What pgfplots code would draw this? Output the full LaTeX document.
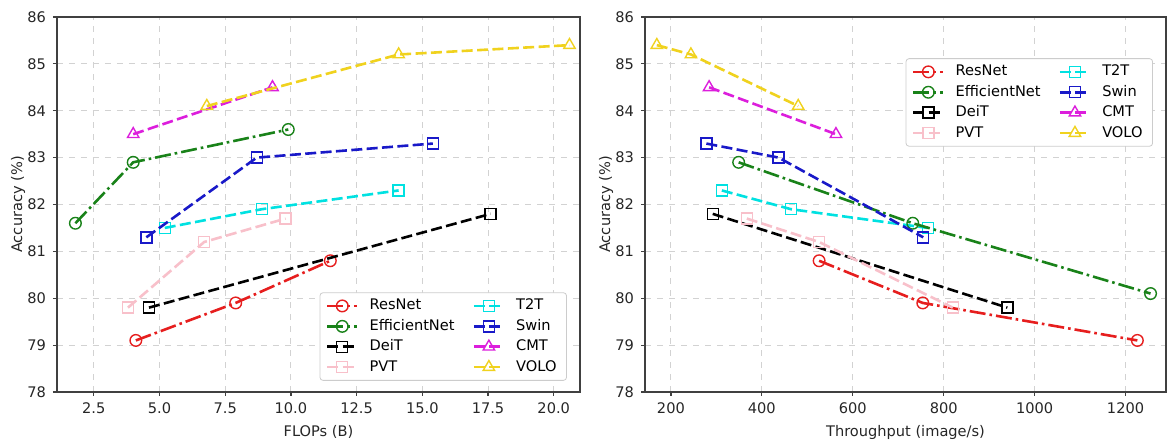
\documentclass[border=0pt]{standalone}
\usepackage{fontspec}
\setmainfont{DejaVu Sans}
\usepackage{pgfplots}
\pgfplotsset{compat=1.18}

\definecolor{cRes}{RGB}{230,30,30}
\definecolor{cEff}{RGB}{25,130,25}
\definecolor{cDeit}{RGB}{0,0,0}
\definecolor{cPvt}{RGB}{248,192,202}
\definecolor{cTtt}{RGB}{0,225,225}
\definecolor{cSwin}{RGB}{25,25,200}
\definecolor{cCmt}{RGB}{220,30,220}
\definecolor{cVolo}{RGB}{240,210,30}

\pgfplotsset{
  accfig/.style={
    scale only axis, width=261.5pt, height=187.5pt,
    ymin=78, ymax=86, ytick={78,79,80,81,82,83,84,85,86},
    grid=major, major grid style={gray!35, dashed, line width=0.5pt},
    axis line style={black!75, line width=0.6pt},
    tick align=outside, xtick pos=bottom, ytick pos=left, major tick length=2pt,
    tick style={black!75, line width=0.6pt},
    tick label style={font=\fontsize{7.3}{8}\selectfont, text=black!85},
    /pgf/number format/assume math mode=true,
    every axis y label/.style={at={(axis description cs:0,0.5)}, xshift=-19.5pt, rotate=90, anchor=center,
      font=\fontsize{7.3}{8}\selectfont, text=black!85},
    every axis x label/.style={at={(axis description cs:0.5,0)}, yshift=-20pt, anchor=center,
      font=\fontsize{7.3}{8}\selectfont, text=black!85},
    ylabel={Accuracy (\%)},
    clip mode=individual,
    legend columns=2, legend cell align=left,
    legend style={font=\fontsize{7.3}{8}\selectfont, draw=black!20, rounded corners=1.5pt,
      fill=white, inner xsep=3pt, inner ysep=1.5pt, row sep=0pt,
      nodes={inner xsep=2pt, inner ysep=1.5pt, text height=5.6pt, text depth=1.6pt}},
    /tikz/every even column/.append style={column sep=7pt},
    /tikz/every odd column/.append style={column sep=3.5pt},
    legend image code/.code={\draw[mark repeat=2,mark phase=2] plot coordinates {(0pt,0pt) (7.5pt,0pt) (15pt,0pt)};},
  },
  dd/.style={line width=1.3pt, dash pattern=on 8pt off 2pt on 1.3pt off 2pt},
  ds/.style={line width=1.3pt, dash pattern=on 5.5pt off 2.2pt},
  mo/.style={mark=o, mark size=2.9pt, mark options={solid, line width=0.7pt}},
  ms/.style={mark=square, mark size=2.75pt, mark options={solid, line width=0.7pt}},
  mt/.style={mark=triangle, mark size=3.3pt, mark options={solid, line width=0.7pt}},
}

\begin{document}
\begin{tikzpicture}
\useasboundingbox (-28.5pt,-26.5pt) rectangle (556pt,196pt);

% accuracy vs FLOPs
\begin{axis}[accfig, at={(0pt,0pt)}, anchor=south west,
  xmin=1.1, xmax=21.0, xtick={2.5,5,7.5,10,12.5,15,17.5,20},
  x tick label style={/pgf/number format/.cd, fixed, fixed zerofill, precision=1, /tikz/.cd},
  xlabel={FLOPs (B)},
  legend style={at={(0.975,0.03)}, anchor=south east}]
\addplot[cRes, dd, mo] coordinates {(4.1,79.1) (7.9,79.9) (11.5,80.8)};
\addlegendentry{ResNet}
\addplot[cTtt, ds, ms] coordinates {(5.2,81.5) (8.9,81.9) (14.1,82.3)};
\addlegendentry{T2T}
\addplot[cEff, dd, mo] coordinates {(1.8,81.6) (4.0,82.9) (9.9,83.6)};
\addlegendentry{EfficientNet}
\addplot[cSwin, ds, ms] coordinates {(4.5,81.3) (8.7,83.0) (15.4,83.3)};
\addlegendentry{Swin}
\addplot[cDeit, ds, ms] coordinates {(4.6,79.8) (17.6,81.8)};
\addlegendentry{DeiT}
\addplot[cCmt, ds, mt] coordinates {(4.0,83.5) (9.3,84.5)};
\addlegendentry{CMT}
\addplot[cPvt, ds, ms] coordinates {(3.8,79.8) (6.7,81.2) (9.8,81.7)};
\addlegendentry{PVT}
\addplot[cVolo, ds, mt] coordinates {(6.8,84.1) (14.1,85.2) (20.6,85.4)};
\addlegendentry{VOLO}
\end{axis}

% accuracy vs throughput
\begin{axis}[accfig, at={(294pt,0pt)}, anchor=south west, width=260.5pt,
  xmin=143, xmax=1289, xtick={200,400,600,800,1000,1200},
  x tick label style={/pgf/number format/1000 sep={}},
  xlabel={Throughput (image/s)},
  legend style={at={(0.975,0.89)}, anchor=north east}]
\addplot[cRes, dd, mo] coordinates {(526,80.8) (754,79.9) (1226,79.1)};
\addlegendentry{ResNet}
\addplot[cTtt, ds, ms] coordinates {(312,82.3) (464,81.9) (765,81.5)};
\addlegendentry{T2T}
\addplot[cEff, dd, mo] coordinates {(349,82.9) (732,81.6) (1255,80.1)};
\addlegendentry{EfficientNet}
\addplot[cSwin, ds, ms] coordinates {(278,83.3) (437,83.0) (755,81.3)};
\addlegendentry{Swin}
\addplot[cDeit, ds, ms] coordinates {(292,81.8) (940,79.8)};
\addlegendentry{DeiT}
\addplot[cCmt, ds, mt] coordinates {(284,84.5) (563,83.5)};
\addlegendentry{CMT}
\addplot[cPvt, ds, ms] coordinates {(367,81.7) (526,81.2) (820,79.8)};
\addlegendentry{PVT}
\addplot[cVolo, ds, mt] coordinates {(169,85.4) (244,85.2) (480,84.1)};
\addlegendentry{VOLO}
\end{axis}
\end{tikzpicture}
\end{document}
